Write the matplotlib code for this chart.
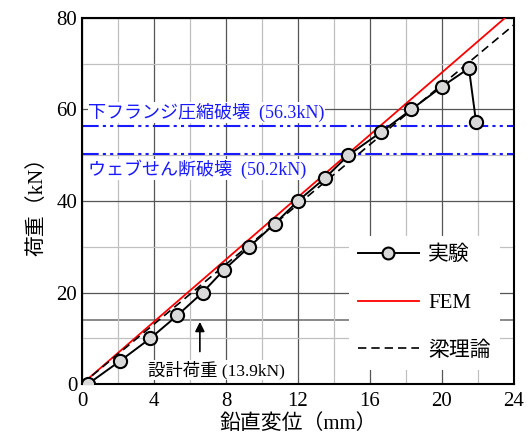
import numpy as np
import matplotlib.pyplot as plt
from matplotlib.ticker import MultipleLocator

plt.rcParams['font.family'] = ['Liberation Serif', 'Noto Sans CJK JP']

# experiment (displacement mm, load kN)
exp_disp = [0.33, 2.1, 3.8, 5.3, 6.7, 7.9, 9.3, 10.7, 12.0, 13.5, 14.8, 16.6, 18.3, 20.0, 21.5, 21.9]
exp_load = [0.0, 5.0, 10.0, 15.0, 20.0, 25.0, 30.0, 35.0, 40.0, 45.0, 50.0, 55.0, 60.0, 65.0, 69.0, 57.2]
# FEM and beam theory (straight lines)
fem_disp = [0.0, 23.5]
fem_load = [0.0, 80.0]
beam_disp = [0.0, 24.0]
beam_load = [0.0, 78.5]

flange_load = 56.3
web_load = 50.2
design_load = 13.9

fig = plt.figure(figsize=(5.28, 4.45), dpi=100)
ax = fig.add_axes([0.1553, 0.137, 0.818, 0.8226])

ax.set_xlim(0, 24)
ax.set_ylim(0, 80)
ax.xaxis.set_major_locator(MultipleLocator(4))
ax.xaxis.set_minor_locator(MultipleLocator(2))
ax.yaxis.set_major_locator(MultipleLocator(20))
ax.yaxis.set_minor_locator(MultipleLocator(10))
ax.grid(which='major', color='#555555', lw=0.9, zorder=0)
ax.grid(which='minor', color='#c0c0c0', lw=0.9, zorder=0)
ax.set_axisbelow(True)
ax.tick_params(which='both', length=0, labelsize=15)
ax.tick_params(axis='x', pad=6)
for s in ax.spines.values():
    s.set_linewidth(1.5)

ax.axhline(design_load, color='#777777', lw=1.2, zorder=0.5)

ax.axhline(flange_load, color='#1a1aff', lw=1.5, ls=(0, (8, 2, 1.5, 2, 1.5, 2)), zorder=1)
ax.axhline(web_load, color='#1a1aff', lw=1.5, ls=(0, (8, 2, 1.5, 2, 1.5, 2)), zorder=1)
ax.text(0.35, flange_load + 1.0, '下フランジ圧縮破壊  (%.1fkN)' % flange_load, color='#1a1aff',
        fontsize=13, va='bottom', ha='left', zorder=2,
        bbox=dict(facecolor='white', edgecolor='none', pad=0.5))
ax.text(0.35, web_load - 1.2, 'ウェブせん断破壊  (%.1fkN)' % web_load, color='#1a1aff',
        fontsize=13, va='top', ha='left', zorder=2,
        bbox=dict(facecolor='white', edgecolor='none', pad=0.5))

ax.plot(fem_disp, fem_load, color='red', lw=1.3, zorder=3, label='FEM')
ax.plot(beam_disp, beam_load, color='black', lw=1.2, ls=(0, (5, 3)), zorder=3, label='梁理論')
ax.plot(exp_disp, exp_load, color='black', lw=1.4, marker='o', ms=9.5, mfc='#d9d9d9',
        mec='black', mew=1.5, zorder=4, label='実験')

ax.annotate('', xy=(6.55, design_load + 0.3), xytext=(6.55, 6.5),
            arrowprops=dict(arrowstyle='-|>', color='black', lw=1.2, mutation_scale=14), zorder=5)
ax.text(7.45, 3.0, '設計荷重 (%.1fkN)' % design_load, fontsize=12.5, ha='center', va='center',
        zorder=5, bbox=dict(facecolor='white', edgecolor='none', pad=0.5))

h, l = ax.get_legend_handles_labels()
order = [2, 0, 1]
leg = ax.legend([h[i] for i in order], [l[i] for i in order], loc='lower right',
                bbox_to_anchor=(0.992, 0.01), frameon=True, fancybox=False, edgecolor='none',
                framealpha=1, fontsize=15, handlelength=2.9, labelspacing=1.35,
                borderpad=0.45, handletextpad=0.45, markerscale=0.9)
leg.set_zorder(6)

ax.set_xlabel('鉛直変位（mm）', fontsize=15, labelpad=2)
ax.set_ylabel('荷重（kN）', fontsize=15, labelpad=6)

fig.savefig('out.png', dpi=100)
